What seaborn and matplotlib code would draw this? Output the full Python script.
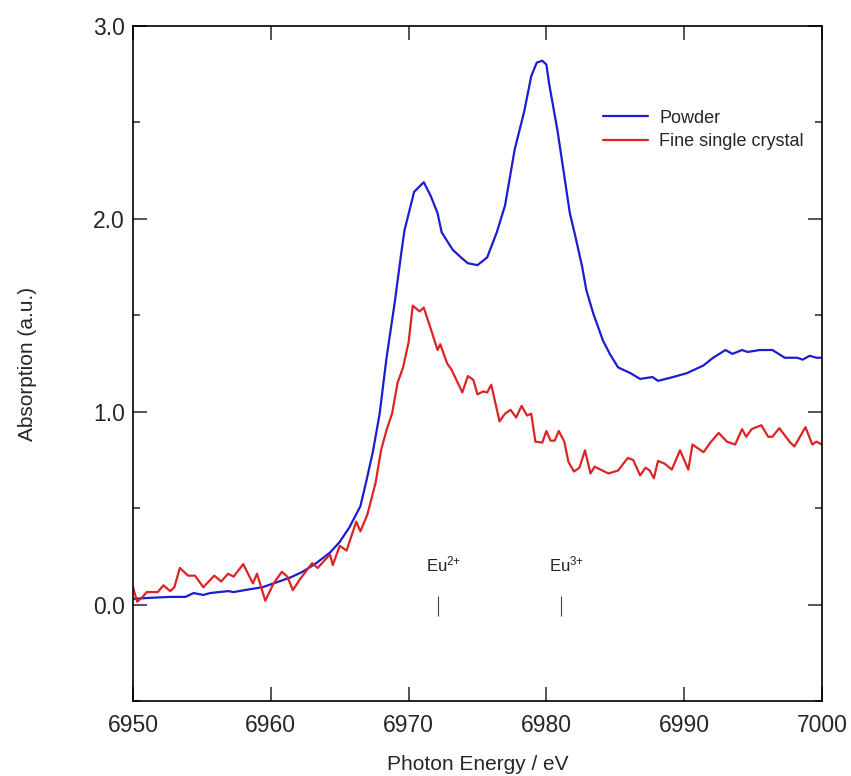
import numpy as np
import pandas as pd
import matplotlib
matplotlib.use("Agg")
import matplotlib.pyplot as plt
import seaborn as sns

# powder spectrum (blue)
powder_e = [6950.0, 6951.2, 6952.7, 6953.8, 6954.4, 6955.1, 6955.6, 6956.9, 6957.3, 6958.5,
            6959.4, 6960.4, 6961.4, 6962.3, 6963.3, 6964.3, 6965.0, 6965.7, 6966.5, 6966.9,
            6967.4, 6967.9, 6968.4, 6969.0, 6969.5, 6969.7, 6970.4, 6971.1, 6971.6, 6972.1,
            6972.4, 6973.2, 6973.8, 6974.3, 6975.0, 6975.7, 6976.4, 6977.0, 6977.7, 6978.4,
            6978.9, 6979.3, 6979.7, 6980.0, 6980.2, 6980.8, 6981.2, 6981.7, 6982.1, 6982.6,
            6982.9, 6983.4, 6984.1, 6984.6, 6985.2, 6986.1, 6986.8, 6987.7, 6988.1, 6989.2,
            6990.2, 6991.4, 6992.1, 6993.0, 6993.5, 6994.2, 6994.6, 6995.5, 6996.4, 6997.3,
            6998.2, 6998.6, 6999.1, 6999.6, 7000.0]
powder_abs = [0.03, 0.035, 0.04, 0.04, 0.06, 0.05, 0.06, 0.07, 0.065, 0.08,
              0.09, 0.115, 0.14, 0.17, 0.215, 0.27, 0.325, 0.40, 0.51, 0.63,
              0.79, 0.99, 1.28, 1.57, 1.84, 1.94, 2.14, 2.19, 2.12, 2.03,
              1.93, 1.84, 1.80, 1.77, 1.76, 1.80, 1.93, 2.07, 2.36, 2.56,
              2.74, 2.81, 2.82, 2.80, 2.70, 2.46, 2.27, 2.03, 1.91, 1.75,
              1.63, 1.51, 1.37, 1.30, 1.23, 1.20, 1.17, 1.18, 1.16, 1.18,
              1.20, 1.24, 1.28, 1.32, 1.30, 1.32, 1.31, 1.32, 1.32, 1.28,
              1.28, 1.27, 1.29, 1.28, 1.28]

# fine single crystal spectrum (red)
crystal_e = [6950.0, 6950.3, 6950.7, 6951.0, 6951.8, 6952.2, 6952.7, 6953.0, 6953.4, 6954.0,
             6954.5, 6955.1, 6955.9, 6956.4, 6956.9, 6957.3, 6958.0, 6958.7, 6959.0, 6959.6,
             6960.2, 6960.8, 6961.2, 6961.6, 6962.1, 6963.0, 6963.4, 6964.3, 6964.5, 6965.0,
             6965.5, 6966.2, 6966.5, 6967.0, 6967.6, 6968.0, 6968.4, 6968.8, 6969.2, 6969.6,
             6970.0, 6970.3, 6970.8, 6971.1, 6971.7, 6972.1, 6972.3, 6972.8, 6973.1, 6973.9,
             6974.3, 6974.7, 6975.0, 6975.4, 6975.7, 6976.0, 6976.6, 6977.0, 6977.4, 6977.8,
             6978.2, 6978.6, 6978.9, 6979.2, 6979.7, 6980.0, 6980.3, 6980.6, 6980.9, 6981.3,
             6981.6, 6982.0, 6982.4, 6982.8, 6983.2, 6983.5, 6984.5, 6985.2, 6985.9, 6986.3,
             6986.8, 6987.2, 6987.5, 6987.8, 6988.1, 6988.6, 6989.1, 6989.7, 6990.3, 6990.6,
             6991.4, 6991.9, 6992.5, 6993.1, 6993.7, 6994.2, 6994.5, 6994.9, 6995.6, 6996.1,
             6996.4, 6996.9, 6997.7, 6998.0, 6998.8, 6999.3, 6999.6, 7000.0]
crystal_abs = [0.09, 0.015, 0.04, 0.065, 0.065, 0.10, 0.07, 0.09, 0.19, 0.15,
               0.15, 0.09, 0.15, 0.12, 0.16, 0.145, 0.21, 0.11, 0.16, 0.02,
               0.11, 0.17, 0.145, 0.075, 0.13, 0.215, 0.19, 0.26, 0.205, 0.305,
               0.28, 0.43, 0.38, 0.465, 0.63, 0.80, 0.905, 0.99, 1.15, 1.23,
               1.36, 1.55, 1.52, 1.54, 1.41, 1.32, 1.35, 1.25, 1.22, 1.10,
               1.185, 1.165, 1.09, 1.105, 1.10, 1.14, 0.95, 0.99, 1.01, 0.97,
               1.03, 0.98, 0.99, 0.845, 0.84, 0.90, 0.85, 0.85, 0.90, 0.845,
               0.74, 0.69, 0.71, 0.80, 0.68, 0.715, 0.68, 0.695, 0.76, 0.75,
               0.67, 0.71, 0.695, 0.655, 0.745, 0.73, 0.70, 0.80, 0.70, 0.83,
               0.79, 0.84, 0.89, 0.845, 0.83, 0.91, 0.87, 0.91, 0.93, 0.87,
               0.87, 0.915, 0.84, 0.82, 0.92, 0.83, 0.845, 0.83]

series_names = ["Powder", "Fine single crystal"]
series_colors = ["#1c1cd0", "#dc2424"]

# Eu valence reference marks
eu_labels = ["Eu$^{2{+}}$", "Eu$^{3{+}}$"]
eu_energy = [6972.1, 6981.05]

df = pd.concat([
    pd.DataFrame({"energy": powder_e, "absorption": powder_abs, "sample": series_names[0]}),
    pd.DataFrame({"energy": crystal_e, "absorption": crystal_abs, "sample": series_names[1]}),
])

sns.set_style("ticks")
plt.rcParams["font.family"] = ["Liberation Sans", "DejaVu Sans"]
plt.rcParams["mathtext.fontset"] = "custom"
plt.rcParams["mathtext.rm"] = "Liberation Sans"
plt.rcParams["mathtext.default"] = "rm"

fig = plt.figure(figsize=(8.51, 7.76), dpi=100)
ax = fig.add_axes([0.1563, 0.0966, 0.8096, 0.8699])

sns.lineplot(data=df, x="energy", y="absorption", hue="sample", sort=False,
             palette=dict(zip(series_names, series_colors)), linewidth=1.6,
             estimator=None, ax=ax)

ax.vlines(eu_energy, -0.06, 0.045, color="#444444", linewidth=0.8)
for lab, e in zip(eu_labels, eu_energy):
    ax.text(e - 0.85, 0.17, lab, fontsize=12, ha="left", va="baseline", color="#222222")

ax.set_xlim(6950, 7000)
ax.set_ylim(-0.5, 3.0)
ax.set_xticks(np.arange(6950, 7001, 10))
ax.set_yticks([0.0, 1.0, 2.0, 3.0])
ax.set_yticks(np.arange(-0.5, 3.01, 0.5), minor=True)
ax.yaxis.set_major_formatter(matplotlib.ticker.FormatStrFormatter("%.1f"))

for s in ax.spines.values():
    s.set_linewidth(1.2)
    s.set_color("black")
ax.tick_params(which="major", direction="in", length=10, width=1.1, top=True, right=True,
               labelsize=16.5, pad=6)
ax.tick_params(which="minor", direction="in", length=5, width=1.1, left=True, right=True)
ax.tick_params(axis="x", pad=9)

ax.set_xlabel("Photon Energy / eV", fontsize=15, labelpad=13)
ax.set_ylabel("Absorption (a.u.)", fontsize=15, labelpad=40)

handles, labels = ax.get_legend_handles_labels()
ax.legend(handles, labels, loc="upper left", bbox_to_anchor=(0.659, 0.9), frameon=False,
          fontsize=13, handlelength=2.5, handletextpad=0.6, labelspacing=0.35)

fig.savefig("out.png", dpi=100)
